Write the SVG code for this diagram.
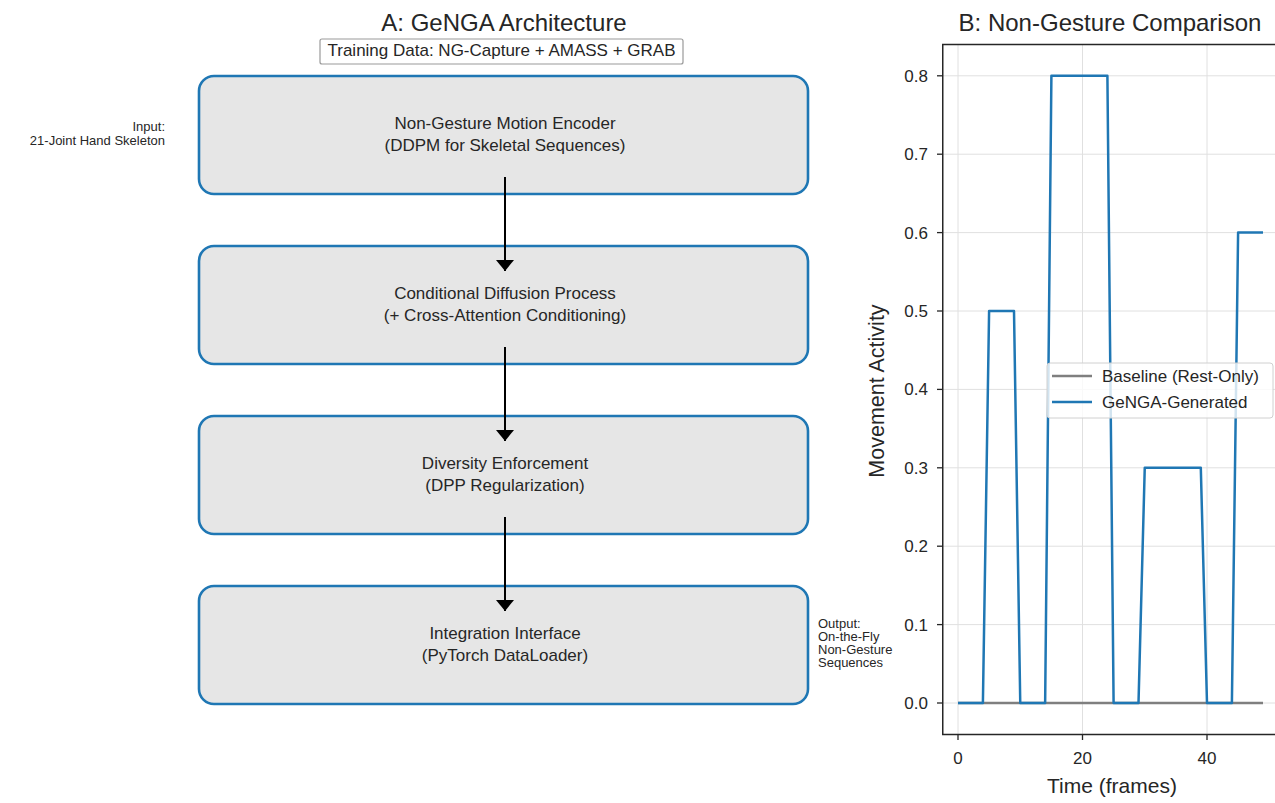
<svg xmlns="http://www.w3.org/2000/svg" width="1275" height="803" viewBox="0 0 1275 803">
<style>
text{font-family:"Liberation Sans",Arial,sans-serif;fill:#262626}
.box{fill:#e6e6e6;stroke:#1f77b4;stroke-width:2.6}
.bt{font-size:17px;text-anchor:middle;dominant-baseline:middle}
.side{font-size:13px}
.title{font-size:24px;text-anchor:middle}
.grid{stroke:#e0e0e0;stroke-width:1}
.tick{stroke:#262626;stroke-width:1.3}
.tl{font-size:17px}
.conn{stroke:#000;stroke-width:2}
</style>
<defs>
<marker id="ah" markerWidth="14" markerHeight="20" refX="11" refY="9" orient="auto" markerUnits="userSpaceOnUse">
<path d="M0,0 L11,9 L0,18 z" fill="#000"/>
</marker>
</defs>
<rect width="1275" height="803" fill="#fff"/>

<!-- Panel A -->
<text class="title" x="504" y="31">A: GeNGA Architecture</text>
<g id="training-data">
<rect x="320" y="39" width="363" height="25" rx="2" fill="#fff" stroke="#9a9a9a" stroke-width="1.2"/>
<text x="501.5" y="52" font-size="17" text-anchor="middle" dominant-baseline="middle">Training Data: NG-Capture + AMASS + GRAB</text>
</g>

<g id="node-encoder">
<rect class="box" x="199" y="76" width="609" height="118" rx="15"/>
<text class="bt" x="505" y="125">Non-Gesture Motion Encoder</text>
<text class="bt" x="505" y="147">(DDPM for Skeletal Sequences)</text>
</g>
<g id="node-diffusion">
<rect class="box" x="199" y="246" width="609" height="118" rx="15"/>
<text class="bt" x="505" y="295">Conditional Diffusion Process</text>
<text class="bt" x="505" y="317">(+ Cross-Attention Conditioning)</text>
</g>
<g id="node-diversity">
<rect class="box" x="199" y="416" width="609" height="118" rx="15"/>
<text class="bt" x="505" y="465">Diversity Enforcement</text>
<text class="bt" x="505" y="487">(DPP Regularization)</text>
</g>
<g id="node-integration">
<rect class="box" x="199" y="586" width="609" height="118" rx="15"/>
<text class="bt" x="505" y="635">Integration Interface</text>
<text class="bt" x="505" y="657">(PyTorch DataLoader)</text>
</g>

<g id="connectors">
<line class="conn" x1="505" y1="177" x2="505" y2="271" marker-end="url(#ah)"/>
<line class="conn" x1="505" y1="347" x2="505" y2="441" marker-end="url(#ah)"/>
<line class="conn" x1="505" y1="517" x2="505" y2="611" marker-end="url(#ah)"/>
</g>

<g id="input-label">
<text class="side" x="165" y="131" text-anchor="end">Input:</text>
<text class="side" x="165" y="145" text-anchor="end">21-Joint Hand Skeleton</text>
</g>
<g id="output-label">
<text class="side" x="818" y="628">Output:</text>
<text class="side" x="818" y="641">On-the-Fly</text>
<text class="side" x="818" y="654">Non-Gesture</text>
<text class="side" x="818" y="667">Sequences</text>
</g>

<!-- Panel B -->
<text class="title" x="1110" y="31">B: Non-Gesture Comparison</text>
<g id="plot-grid">
<line class="grid" x1="958" y1="44.4" x2="958" y2="734.4"/>
<line class="grid" x1="1082.5" y1="44.4" x2="1082.5" y2="734.4"/>
<line class="grid" x1="1207" y1="44.4" x2="1207" y2="734.4"/>
<line class="grid" x1="943" y1="703" x2="1275" y2="703"/>
<line class="grid" x1="943" y1="624.6" x2="1275" y2="624.6"/>
<line class="grid" x1="943" y1="546.2" x2="1275" y2="546.2"/>
<line class="grid" x1="943" y1="467.8" x2="1275" y2="467.8"/>
<line class="grid" x1="943" y1="389.4" x2="1275" y2="389.4"/>
<line class="grid" x1="943" y1="311" x2="1275" y2="311"/>
<line class="grid" x1="943" y1="232.6" x2="1275" y2="232.6"/>
<line class="grid" x1="943" y1="154.2" x2="1275" y2="154.2"/>
<line class="grid" x1="943" y1="75.8" x2="1275" y2="75.8"/>
</g>
<g id="series">
<line x1="958" y1="703" x2="1263" y2="703" stroke="#7f7f7f" stroke-width="2.5"/>
<polyline fill="none" stroke="#1f77b4" stroke-width="2.5" stroke-linejoin="round" points="958,703 982.9,703 989.1,311 1014,311 1020.25,703 1045.15,703 1051.4,75.8 1107.4,75.8 1113.6,703 1138.5,703 1144.75,467.8 1200.8,467.8 1207,703 1231.9,703 1238.1,232.6 1263,232.6"/>
</g>
<g id="axes">
<line x1="942.75" y1="44.4" x2="942.75" y2="734.4" stroke="#262626" stroke-width="1.5"/>
<line x1="942" y1="734.4" x2="1275" y2="734.4" stroke="#262626" stroke-width="1.5"/>
<line x1="942" y1="44.4" x2="1275" y2="44.4" stroke="#262626" stroke-width="1.5"/>
<line class="tick" x1="937" y1="703" x2="943" y2="703"/>
<line class="tick" x1="937" y1="624.6" x2="943" y2="624.6"/>
<line class="tick" x1="937" y1="546.2" x2="943" y2="546.2"/>
<line class="tick" x1="937" y1="467.8" x2="943" y2="467.8"/>
<line class="tick" x1="937" y1="389.4" x2="943" y2="389.4"/>
<line class="tick" x1="937" y1="311" x2="943" y2="311"/>
<line class="tick" x1="937" y1="232.6" x2="943" y2="232.6"/>
<line class="tick" x1="937" y1="154.2" x2="943" y2="154.2"/>
<line class="tick" x1="937" y1="75.8" x2="943" y2="75.8"/>
<line class="tick" x1="958" y1="734" x2="958" y2="740"/>
<line class="tick" x1="1082.5" y1="734" x2="1082.5" y2="740"/>
<line class="tick" x1="1207" y1="734" x2="1207" y2="740"/>
<g class="tl" text-anchor="end">
<text x="928" y="709">0.0</text>
<text x="928" y="630.6">0.1</text>
<text x="928" y="552.2">0.2</text>
<text x="928" y="473.8">0.3</text>
<text x="928" y="395.4">0.4</text>
<text x="928" y="317">0.5</text>
<text x="928" y="238.6">0.6</text>
<text x="928" y="160.2">0.7</text>
<text x="928" y="81.8">0.8</text>
</g>
<g class="tl" text-anchor="middle">
<text x="958" y="764">0</text>
<text x="1082.5" y="764">20</text>
<text x="1207" y="764">40</text>
</g>
<text x="1112" y="793" font-size="21" text-anchor="middle">Time (frames)</text>
<text transform="translate(884,391) rotate(-90)" font-size="21.5" text-anchor="middle">Movement Activity</text>
</g>
<g id="legend">
<rect x="1047" y="363" width="226" height="55" rx="3" fill="#fff" fill-opacity="0.8" stroke="#d0d0d0"/>
<line x1="1052" y1="376" x2="1092" y2="376" stroke="#7f7f7f" stroke-width="2.5"/>
<line x1="1052" y1="402" x2="1092" y2="402" stroke="#1f77b4" stroke-width="2.5"/>
<text x="1102" y="382" font-size="17">Baseline (Rest-Only)</text>
<text x="1102" y="408" font-size="17">GeNGA-Generated</text>
</g>
</svg>
